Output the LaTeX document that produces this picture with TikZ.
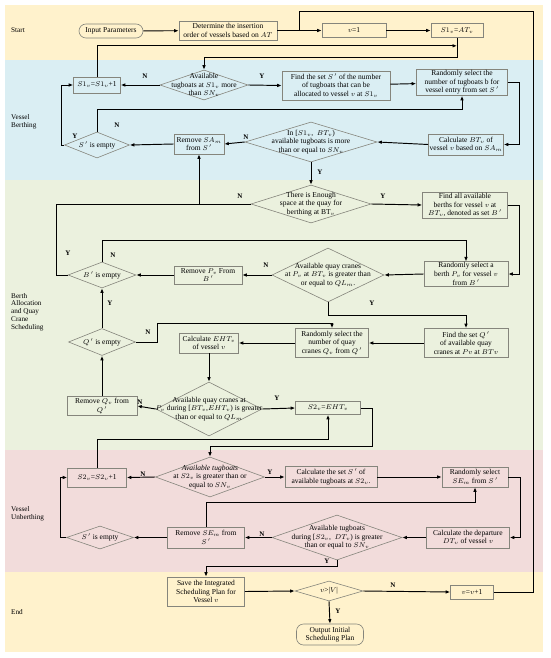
\documentclass[tikz,border=0pt]{standalone}
\usepackage{fontspec}
\setmainfont{Liberation Serif}
\usepackage{amsmath}
\usepackage{tikz}
\usetikzlibrary{arrows.meta,positioning,calc,shapes.geometric}
\definecolor{bandyel}{HTML}{FFF2CC}
\definecolor{bandblue}{HTML}{DAEEF3}
\definecolor{bandgreen}{HTML}{EBF1DE}
\definecolor{bandpink}{HTML}{F2DCDB}
\definecolor{bordc}{HTML}{85857C}

\begin{document}
\begin{tikzpicture}[x=1pt,y=-1pt,
  box/.style={draw=bordc, line width=0.6pt, align=center, inner sep=1pt, font=\fontsize{7.5}{8.6}\selectfont},
  term/.style={box, rounded corners=7pt},
  sz/.style 2 args={minimum width=#1pt, minimum height=#2pt},
  dia/.style={diamond, draw=bordc, line width=0.6pt, inner sep=0pt},
  dtext/.style={align=center, inner sep=0pt, font=\fontsize{7.5}{8.6}\selectfont},
  lane/.style={anchor=west, align=left, inner sep=0pt, font=\fontsize{7.2}{7.8}\selectfont},
  yn/.style={font=\bfseries\fontsize{7}{7}\selectfont, inner sep=0pt},
  arr/.style={-{Latex[length=4.5pt,width=3.6pt]}, line width=0.95pt},
  ln/.style={line width=0.95pt}]
  \useasboundingbox (0,0) rectangle (550,658);
  \foreach \ya/\yb/\col in {5/60/bandyel,60/180/bandblue,180/450/bandgreen,450/572/bandpink,572/652/bandyel}
    \fill[\col] (5,\ya) rectangle (543,\yb);
  \foreach \yy/\txt [count=\i] in {30/Start,122/{Vessel\\Berthing},312/{Berth\\Allocation\\and Quay\\Crane\\Scheduling},514/{Vessel\\Unberthing},612/End}
    \node[lane] (lane\i) at (11,\yy) {\txt};

  \node[term, sz={64}{14}] (inp) at (111,31) {Input Parameters};
  \node[box, sz={98}{19}] (det) at (228,30.5) {Determine the insertion\\order of vessels based on $AT$};
  \node[box, sz={64}{14}] (vone) at (354,30.5) {$v$=1};
  \node[box, sz={52}{14}] (sinit) at (457,30.5) {$S1_v$=$AT_v$};

  \node[box, sz={47}{16}] (sinc) at (97,85) {$S1_v$=$S1_v$+1};
  \node[dia, sz={88}{30}, label={[dtext]center:{Available\\tugboats at $S1_v$ more\\than $SN_v$}}] (dtug) at (204,85) {};
  \node[box, sz={108}{29}] (fset) at (336,85.5) {Find the set $S\,'$ of the number\\of tugboats that can be\\allocated to vessel $v$ at $S1_v$};
  \node[box, sz={91}{25}] (rsel) at (462,82.5) {Randomly select the\\number of tugboats b for\\vessel entry from set $S\,'$};
  \node[box, sz={75}{21}] (calcbt) at (466,144.5) {Calculate $BT_v$ of\\vessel $v$ based on $SA_m$};
  \node[dia, sz={132}{40}, label={[dtext]center:{In [$S1_v$,\ \ $BT_v$)\\available tugboats is more\\than or equal to $SN_v$}}] (dint) at (311,142) {};
  \node[box, sz={50}{20}] (rmsa) at (199,144) {Remove $SA_m$\\from $S\,'$};
  \node[dia, sz={65}{26}, label={[dtext]center:{$S\,'$ is empty}}] (dsemp) at (97,145) {};

  \node[dia, sz={120}{38}, label={[dtext]center:{There is Enough\\space at the quay for\\berthing at BT$_v$}}] (dspace) at (311,204) {};
  \node[box, sz={85}{26}] (fberth) at (465,205) {Find all available\\berths for vessel $v$ at\\$BT_v$, denoted as set $B\,'$};
  \node[box, sz={84}{24}] (rberth) at (466,274) {Randomly select a\\berth $P_v$ for vessel $v$\\from $B\,'$};
  \node[dia, sz={112}{54}, label={[dtext]center:{Available quay cranes\\at $P_v$ at $BT_v$ is greater than\\or equal to $QL_m$.}}] (dqc) at (328,275) {};
  \node[box, sz={68}{18}] (rmp) at (208,275) {Remove $P_v$ From\\$B\,'$};
  \node[dia, sz={68}{26}, label={[dtext]center:{$B\,'$ is empty}}] (dbemp) at (102,275) {};
  \node[box, sz={84}{29}] (fq) at (466,343) {Find the set $Q\,'$\\of available quay\\cranes at $Pv$ at $BTv$};
  \node[box, sz={73}{29}] (rq) at (332,343) {Randomly select the\\number of quay\\cranes $Q_v$ from $Q\,'$};
  \node[box, sz={59}{20}] (calceht) at (209,343) {Calculate $EHT_v$\\of vessel $v$};
  \node[dia, sz={67}{27}, label={[dtext]center:{$Q\,'$ is empty}}] (dqemp) at (102,342) {};
  \node[dia, sz={106}{54}, label={[dtext]center:{Available quay cranes at\\$P_v$ during [$BT_v$,$EHT_v$) is greater\\than or equal to $QL_m$}}] (dqc2) at (209,409) {};
  \node[box, sz={70}{19}] (rmq) at (102,406) {Remove $Q_v$ from\\$Q\,'$};
  \node[box, sz={65}{13}] (stwo) at (328,408) {$S2_v$=$EHT_v$};

  \node[box, sz={59}{19}] (stinc) at (97,477.5) {$S2_v$=$S2_v$+1};
  \node[dia, sz={109}{40}, label={[dtext]center:{\itshape Available tugboats\\at $S2_v$ is greater than or\\equal to $SN_v$}}] (dtug2) at (210,477) {};
  \node[box, sz={92}{21}] (cset) at (331,477) {Calculate the set $S\,'$ of\\available tugboats at $S2_v$.};
  \node[box, sz={66}{20}] (rse) at (475,477) {Randomly select\\$SE_m$ from $S\,'$};
  \node[box, sz={83}{21}] (cdep) at (468,537.5) {Calculate the departure\\$DT_v$ of vessel $v$};
  \node[dia, sz={130}{45}, label={[dtext]center:{Available tugboats\\during [$S2_v$,\ \ $DT_v$) is greater\\than or equal to $SN_v$}}] (dtug3) at (337,537.5) {};
  \node[box, sz={77}{21}] (rmse) at (206,537.5) {Remove $SE_m$ from\\$S\,'$};
  \node[dia, sz={67}{23}, label={[dtext]center:{$S\,'$ is empty}}] (dsemp2) at (100,537.5) {};

  \node[box, sz={77}{29}] (save) at (206,591.5) {Save the Integrated\\Scheduling Plan for\\Vessel $v$};
  \node[dia, sz={68}{20}, label={[dtext]center:{$v$>|$V$|}}] (dlast) at (329,591) {};
  \node[box, sz={43}{14}] (vinc) at (472,592) {$v$=$v$+1};
  \node[term, sz={67}{21}] (outp) at (330,634.5) {Output Initial\\Scheduling Plan};

  \draw[arr] (inp) -- (det);
  \draw[arr] (det) -- (vone);
  \draw[arr] (vone) -- (sinit);
  \draw[ln] (vinc.east) -| (533,11) -| ($(det.east)!0.5!(vone.west)$);
  \draw[arr] (sinit.south) -- ++(0,20) -| (dtug.north);
  \draw[arr] (sinc.north) |- ([yshift=-8pt]sinit.south);
  \draw[arr] (dtug.west) -- (sinc.east);
  \draw[arr] (dtug.east) -- (fset.west);
  \draw[arr] (fset) -- (rsel);
  \draw[arr] (rsel.east) -- ++(12,0) |- (calcbt.east);
  \draw[arr] (calcbt.west) -- (dint.east);
  \draw[arr] (dint.west) -- (rmsa.east);
  \draw[arr] (rmsa.west) -- (dsemp.east);
  \draw[arr] (dsemp.west) -- ++(-3,0) |- (sinc.west);
  \draw[arr] (dsemp.north) -- ++(0,-22) -| (rsel.south);
  \draw[arr] (dint.south) -- (dspace.north);

  \draw[arr] (dspace.west) -| (rmsa.south);
  \draw[arr] (dspace.east) -- (fberth.west);
  \draw[arr] (fberth.east) -- ++(12,0) |- (rberth.east);
  \draw[arr] (rberth.west) -- (dqc.east);
  \draw[arr] (dqc.west) -- (rmp.east);
  \draw[arr] (rmp.west) -- (dbemp.east);
  \draw[ln] (dbemp.west) -- ++(-11,0) |- (rmsa.south |- dspace.west);
  \draw[arr] (dbemp.north) -- ++(0,-21) -| (rberth.north);
  \draw[arr] (dqc.south) -- ++(0,13) -| (fq.north);
  \draw[arr] (fq.west) -- (rq.east);
  \draw[arr] (rq.west) -- (calceht.east);
  \draw[arr] (dqemp.east) -- ++(22,0) -- ++(0,-19) -| (rq.north);
  \draw[arr] (calceht.south) -- (dqc2.north);
  \draw[arr] (dqc2.west) -- (rmq.east);
  \draw[arr] (rmq.north) -- (dqemp.south);
  \draw[arr] (dqemp.north) -- (dbemp.south);
  \draw[arr] (dqc2.east) -- (stwo.west);

  \draw[arr] (stinc.north) -- ++(0,-28) -| (stwo.south);
  \draw[arr] (stwo.east) -- ++(12,0) -- ++(0,38) -| (dtug2.north);
  \draw[arr] (dtug2.west) -- (stinc.east);
  \draw[arr] (dtug2.east) -- (cset.west);
  \draw[arr] (cset) -- (rse);
  \draw[arr] (rse.east) -- ++(12,0) |- (cdep.east);
  \draw[arr] (cdep.west) -- (dtug3.east);
  \draw[arr] (dtug3.west) -- (rmse.east);
  \draw[arr] (rmse.west) -- (dsemp2.east);
  \draw[arr] (dsemp2.west) -- ++(-6,0) |- (stinc.west);
  \draw[arr] (rmse.north) -- ++(0,-24) -| (rse.south);
  \draw[arr] (dtug3.south) -- ++(0,6) -| (save.north);

  \draw[arr] (save.east) -- (dlast.west);
  \draw[arr] (dlast.east) -- (vinc.west);
  \draw[arr] (dlast.south) -- (outp.north);

  \foreach \x/\y/\t [count=\i] in {145/76/N,262/76/Y,75/136/Y,117/125/N,246/137/N,320/172/Y,240/196/N,383/196/Y,68/253/Y,113/255/N,266/265/N,372/303/Y,110/303/Y,148/332/N,140/402/N,277/398/Y,143/474/N,270/472/Y,262/534/N,327/561/Y,393/585/N,338/611/Y}
    \node[yn] (yn\i) at (\x,\y) {\t};
\end{tikzpicture}
\end{document}
